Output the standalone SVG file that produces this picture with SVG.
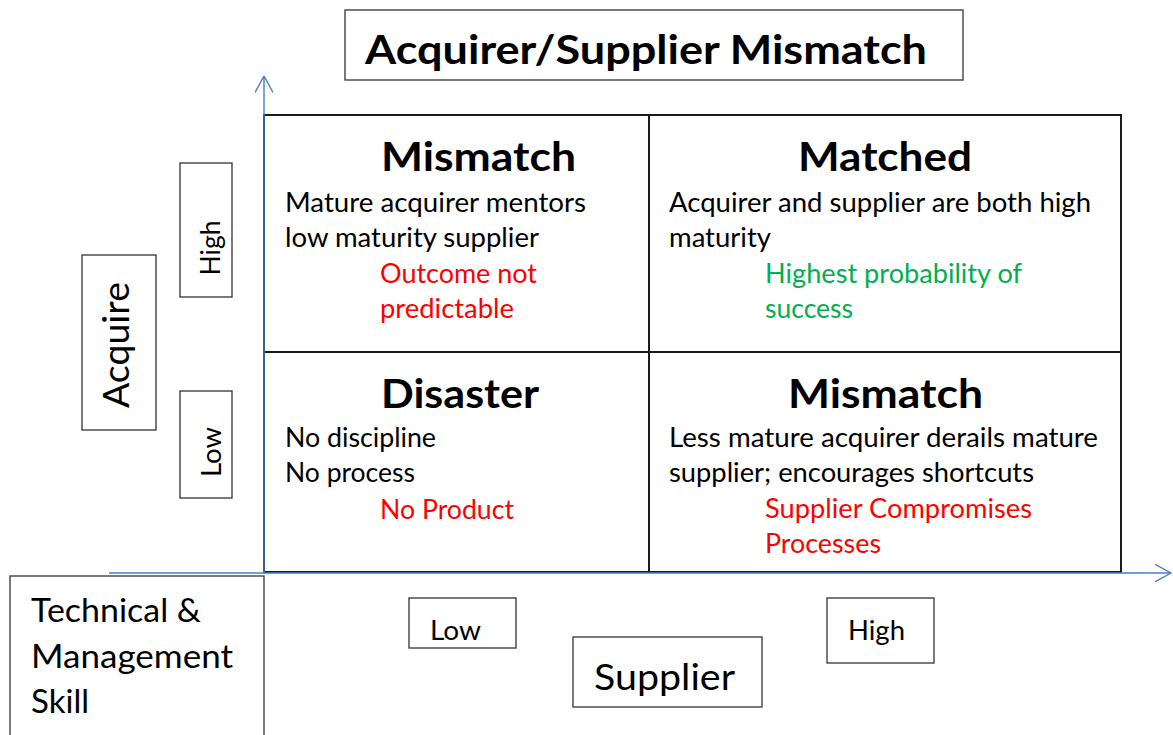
<svg xmlns="http://www.w3.org/2000/svg" width="1173" height="735" viewBox="0 0 1173 735">
  <style>
    .box { fill: #ffffff; stroke: #333333; stroke-width: 1.3; }
    .grid { fill: none; stroke: #1a1a1a; stroke-width: 2; }
    .axis { fill: none; stroke: #4a7ebb; stroke-width: 1.4; }
    text { font-family: Lato, "Open Sans", "Liberation Sans", sans-serif; fill: #000000; }
    .head { font-size: 41px; font-weight: bold; }
    .body { font-size: 26px; }
    .red { fill: #ff0000; }
    .green { fill: #00b050; }
    .lab { font-size: 26px; }
  </style>
  <defs>
    <marker id="chevron" viewBox="0 0 17 18" refX="16.5" refY="9" markerWidth="17" markerHeight="18" markerUnits="userSpaceOnUse" orient="auto">
      <path d="M0,0 L16.5,9 L0,18" fill="none" stroke="#4a7ebb" stroke-width="1.4"/>
    </marker>
  </defs>

  <rect width="1173" height="735" fill="#ffffff"/>

  <!-- title -->
  <g id="title">
    <rect class="box" x="345" y="10" width="618" height="70"/>
    <text class="head" x="365" y="64" textLength="562" lengthAdjust="spacingAndGlyphs">Acquirer/Supplier Mismatch</text>
  </g>

  <!-- 2x2 grid of quadrants -->
  <g id="quadrant-grid">
    <rect class="grid" x="264" y="115" width="857" height="457"/>
    <line class="grid" x1="649" y1="115" x2="649" y2="572"/>
    <line class="grid" x1="264" y1="352" x2="1121" y2="352"/>
  </g>

  <g id="q-top-left">
    <text class="head" x="381" y="171" textLength="195" lengthAdjust="spacingAndGlyphs">Mismatch</text>
    <text class="body" x="285" y="212" textLength="301" lengthAdjust="spacingAndGlyphs">Mature acquirer mentors</text>
    <text class="body" x="285" y="247" textLength="254" lengthAdjust="spacingAndGlyphs">low maturity supplier</text>
    <text class="body red" x="380" y="283" textLength="157" lengthAdjust="spacingAndGlyphs">Outcome not</text>
    <text class="body red" x="380" y="318" textLength="134" lengthAdjust="spacingAndGlyphs">predictable</text>
  </g>

  <g id="q-top-right">
    <text class="head" x="798" y="171" textLength="174" lengthAdjust="spacingAndGlyphs">Matched</text>
    <text class="body" x="669" y="212" textLength="422" lengthAdjust="spacingAndGlyphs">Acquirer and supplier are both high</text>
    <text class="body" x="669" y="247" textLength="102" lengthAdjust="spacingAndGlyphs">maturity</text>
    <text class="body green" x="765" y="283" textLength="257" lengthAdjust="spacingAndGlyphs">Highest probability of</text>
    <text class="body green" x="765" y="318" textLength="88" lengthAdjust="spacingAndGlyphs">success</text>
  </g>

  <g id="q-bottom-left">
    <text class="head" x="381" y="408" textLength="158" lengthAdjust="spacingAndGlyphs">Disaster</text>
    <text class="body" x="285" y="447" textLength="151" lengthAdjust="spacingAndGlyphs">No discipline</text>
    <text class="body" x="285" y="482" textLength="130" lengthAdjust="spacingAndGlyphs">No process</text>
    <text class="body red" x="380" y="519" textLength="134" lengthAdjust="spacingAndGlyphs">No Product</text>
  </g>

  <g id="q-bottom-right">
    <text class="head" x="788" y="408" textLength="195" lengthAdjust="spacingAndGlyphs">Mismatch</text>
    <text class="body" x="669" y="447" textLength="429" lengthAdjust="spacingAndGlyphs">Less mature acquirer derails mature</text>
    <text class="body" x="669" y="482" textLength="365" lengthAdjust="spacingAndGlyphs">supplier; encourages shortcuts</text>
    <text class="body red" x="765" y="518" textLength="267" lengthAdjust="spacingAndGlyphs">Supplier Compromises</text>
    <text class="body red" x="765" y="553" textLength="116" lengthAdjust="spacingAndGlyphs">Processes</text>
  </g>

  <!-- axes -->
  <g id="connectors">
    <line class="axis" x1="264" y1="574" x2="264" y2="76" marker-end="url(#chevron)"/>
    <line class="axis" x1="109" y1="573" x2="1171" y2="573" marker-end="url(#chevron)"/>
  </g>

  <!-- vertical axis labels -->
  <g id="acquire-label">
    <rect class="box" x="82" y="255" width="74" height="175"/>
    <text font-size="36" text-anchor="middle" transform="translate(129,345) rotate(-90)" textLength="126" lengthAdjust="spacingAndGlyphs">Acquire</text>
  </g>
  <g id="acquire-high">
    <rect class="box" x="180" y="163" width="52" height="134"/>
    <text class="lab" text-anchor="middle" transform="translate(220,248) rotate(-90)" textLength="55" lengthAdjust="spacingAndGlyphs">High</text>
  </g>
  <g id="acquire-low">
    <rect class="box" x="180" y="391" width="52" height="107"/>
    <text class="lab" text-anchor="middle" transform="translate(221,452) rotate(-90)" textLength="50" lengthAdjust="spacingAndGlyphs">Low</text>
  </g>

  <!-- horizontal axis labels -->
  <g id="skill-label">
    <rect class="box" x="10" y="576" width="254" height="170"/>
    <text font-size="33" x="31" y="622" textLength="170" lengthAdjust="spacingAndGlyphs">Technical &amp;</text>
    <text font-size="33" x="31" y="668" textLength="202" lengthAdjust="spacingAndGlyphs">Management</text>
    <text font-size="33" x="31" y="713" textLength="58" lengthAdjust="spacingAndGlyphs">Skill</text>
  </g>
  <g id="supplier-low">
    <rect class="box" x="409" y="598" width="107" height="50"/>
    <text class="lab" x="430" y="640" textLength="51" lengthAdjust="spacingAndGlyphs">Low</text>
  </g>
  <g id="supplier-label">
    <rect class="box" x="573" y="637" width="189" height="70"/>
    <text font-size="37" x="594" y="690" textLength="141" lengthAdjust="spacingAndGlyphs">Supplier</text>
  </g>
  <g id="supplier-high">
    <rect class="box" x="827" y="598" width="107" height="65"/>
    <text class="lab" x="848" y="640" textLength="57" lengthAdjust="spacingAndGlyphs">High</text>
  </g>
</svg>
